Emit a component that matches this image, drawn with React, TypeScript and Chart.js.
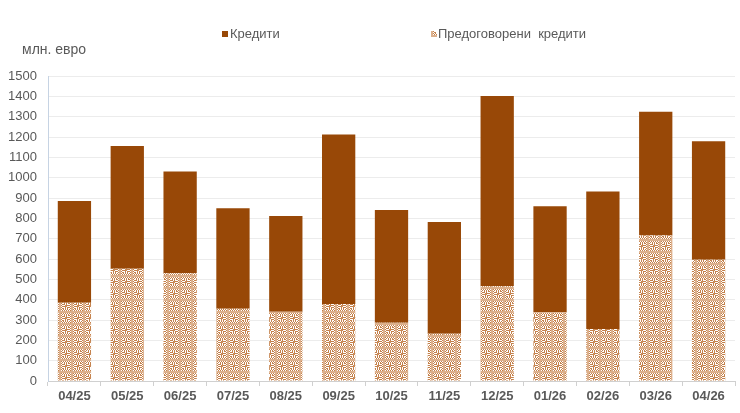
import React, { useEffect, useRef } from "react";
import { Chart, registerables } from "chart.js";

Chart.register(...registerables);

const categories = ["04/25", "05/25", "06/25", "07/25", "08/25", "09/25", "10/25", "11/25", "12/25", "01/26", "02/26", "03/26", "04/26"];
const preContracted = [385, 552, 530, 355, 341, 379, 287, 232, 466, 338, 256, 716, 596];
const credits = [500, 604, 500, 494, 470, 833, 554, 550, 936, 521, 676, 608, 583];
const yTicks = { min: 0, max: 1500, step: 100 };
const seriesNames = ["Кредити", "Предоговорени  кредити"];
const unitLabel = "млн. евро";

const BROWN = "#984807";
const PAT = "#c4814b";
const TEXT = "#595959";

function makePattern(ctx: CanvasRenderingContext2D): CanvasPattern | string {
  const t = document.createElement("canvas");
  const n = 12;
  t.width = n;
  t.height = n;
  const c = t.getContext("2d");
  if (!c) return PAT;
  c.fillStyle = "#ffffff";
  c.fillRect(0, 0, n, n);
  for (let x = 0; x < n; x++) {
    for (let y = 0; y < n; y++) {
      const dx = Math.abs(x - 5.5);
      const dy = Math.abs(y - 5.5);
      const d = Math.max(dx, dy);
      let on = (x + y) % 2 === 0;
      let col = PAT;
      if (d <= 1) {
        on = true;
        col = "#c98a58";
      } else if (d >= 2 && d < 3) {
        on = (x + y) % 2 === 1;
      } else if (d >= 5) {
        on = true;
        col = "#dcb08c";
      }
      if (on) {
        c.fillStyle = col;
        c.fillRect(x, y, 1, 1);
      }
    }
  }
  return ctx.createPattern(t, "repeat") || PAT;
}

export default function App() {
  const ref = useRef<HTMLCanvasElement>(null);
  useEffect(() => {
    const canvas = ref.current;
    if (!canvas) return;
    const ctx = canvas.getContext("2d");
    if (!ctx) return;
    const pattern = makePattern(ctx);

    const overlay = {
      id: "overlay",
      afterDraw(chart: any) {
        const c = chart.ctx as CanvasRenderingContext2D;
        c.save();
        c.textBaseline = "middle";
        c.fillStyle = TEXT;
        c.font = "14px 'Liberation Sans', Arial, sans-serif";
        c.textAlign = "left";
        c.fillText(unitLabel, 22, 50);
        c.font = "13px 'Liberation Sans', Arial, sans-serif";
        c.fillStyle = BROWN;
        c.fillRect(222, 31, 6, 6);
        c.fillStyle = TEXT;
        c.fillText(seriesNames[0], 230, 34);
        c.fillStyle = pattern as any;
        c.fillRect(431, 31, 6, 6);
        c.fillStyle = TEXT;
        c.fillText(seriesNames[1], 438, 34);
        c.restore();
      },
    };

    const chart = new Chart(ctx, {
      type: "bar",
      data: {
        labels: categories,
        datasets: [
          {
            label: seriesNames[1],
            data: preContracted,
            backgroundColor: pattern as any,
            borderWidth: 0,
          },
          {
            label: seriesNames[0],
            data: credits,
            backgroundColor: BROWN,
            borderWidth: 0,
          },
        ],
      },
      options: {
        responsive: true,
        maintainAspectRatio: false,
        animation: false,
        layout: { padding: { top: 76, right: 5, bottom: 0, left: 0 } },
        plugins: {
          legend: { display: false },
          tooltip: { enabled: false },
          title: { display: false },
        },
        datasets: { bar: { barPercentage: 1, categoryPercentage: 0.63 } },
        scales: {
          x: {
            stacked: true,
            grid: {
              display: true,
              drawOnChartArea: false,
              drawTicks: true,
              tickLength: 5,
              color: "#d0d0d0",
              offset: true,
            },
            border: { display: true, color: "#d0d0d0" },
            ticks: {
              color: TEXT,
              font: { family: "'Liberation Sans', Arial, sans-serif", size: 13, weight: "bold" },
              padding: 3,
              maxRotation: 0,
              autoSkip: false,
            },
            afterFit(scale: any) {
              scale.height = 32;
            },
          },
          y: {
            stacked: true,
            min: yTicks.min,
            max: yTicks.max,
            ticks: {
              stepSize: yTicks.step,
              color: TEXT,
              font: { family: "'Liberation Sans', Arial, sans-serif", size: 13 },
              padding: 11,
              callback: (v: any) => String(v),
            },
            grid: { color: "#ececec", drawTicks: false },
            border: { display: true, color: "#c6d3e3" },
            afterFit(scale: any) {
              scale.width = 48;
            },
          },
        },
      },
      plugins: [overlay],
    });
    return () => chart.destroy();
  }, []);

  return (
    <div style={{ position: "absolute", left: 0, top: 0, width: 740, height: 413, background: "#ffffff" }}>
      <canvas ref={ref} />
    </div>
  );
}
